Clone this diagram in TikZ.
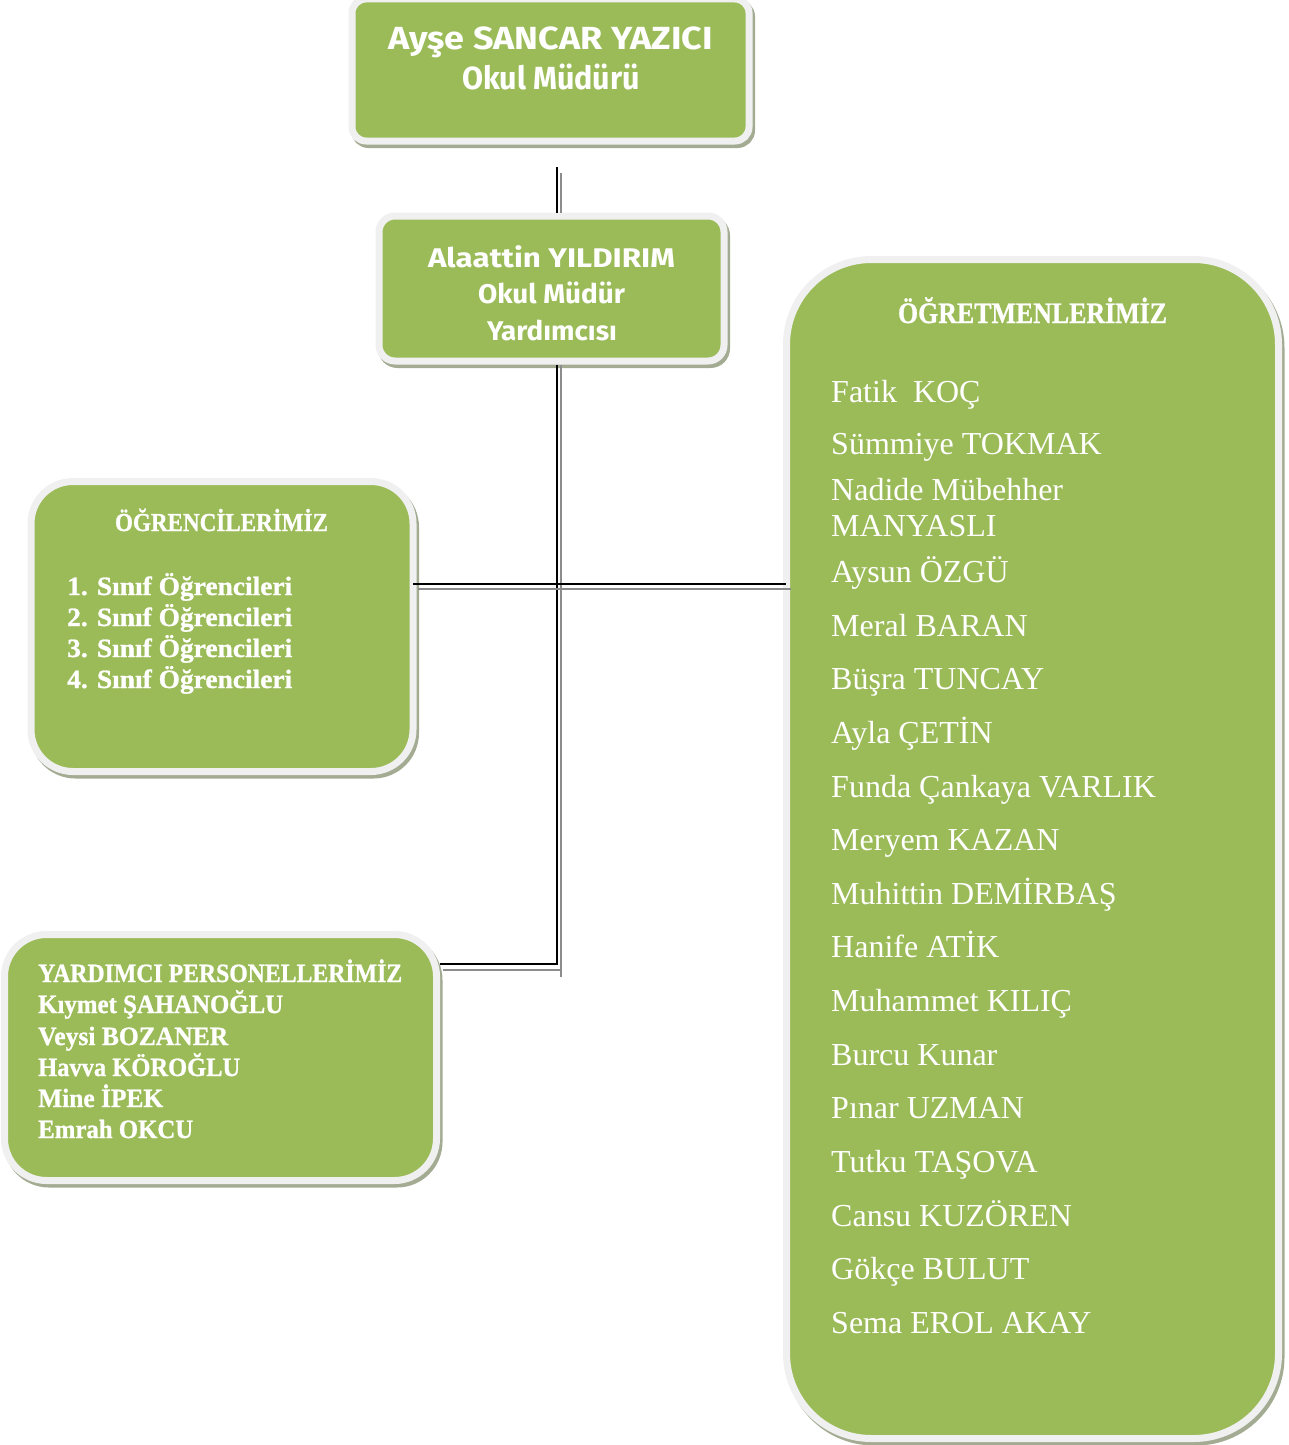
\documentclass[tikz,border=0pt]{standalone}
\usepackage{fontspec}
\usepackage{graphicx}
\setmainfont{Liberation Serif}
\newfontfamily\comicf{Fira Sans}
\newfontfamily\tnrf{Liberation Serif}
\newfontfamily\cambf{Liberation Serif}[BoldFeatures={FakeBold=1.0}]
\definecolor{boxgreen}{HTML}{9BBB59}
\definecolor{bandgray}{HTML}{F0F0F0}
\definecolor{shadowc}{HTML}{A3AC93}
\definecolor{linegray}{HTML}{8C8C8C}
\newcommand{\fitw}[2]{\resizebox{#1pt}{\height}{#2}}
\newcommand{\fitc}[2]{\resizebox{#1pt}{1.1\height}{#2}}
\tikzset{
  orgbox/.style={rectangle, rounded corners=#1, fill=boxgreen, draw=bandgray,
    line width=7pt, inner sep=0pt,
    preaction={fill=shadowc, draw=shadowc, line width=7pt,
      transform canvas={shift={(2.5pt,-3.5pt)}}}},
  conn/.style={black, line width=1.5pt},
  conng/.style={linegray, line width=1.5pt},
  topt/.style={anchor=base, inner sep=0pt, text=white, font=\comicf\bfseries\fontsize{32}{38}\selectfont},
  dept/.style={anchor=base, inner sep=0pt, text=white, font=\comicf\bfseries\fontsize{27}{32}\selectfont},
  camt/.style={anchor=base west, inner sep=0pt, text=white, font=\cambf\bfseries\fontsize{24}{28}\selectfont},
  camh/.style={anchor=base, inner sep=0pt, text=white, font=\cambf\bfseries\fontsize{23.5}{28}\selectfont},
  teah/.style={anchor=base, inner sep=0pt, text=white, font=\cambf\bfseries\fontsize{27}{30}\selectfont},
  tname/.style={anchor=base west, inner sep=0pt, text=white, font=\tnrf\fontsize{32}{38}\selectfont},
}
\begin{document}
\begin{tikzpicture}[x=1pt,y=-1pt]
\useasboundingbox (0,0) rectangle (1289,1445);
% boxes
\node[orgbox=14pt, minimum width=397pt, minimum height=142pt] (boss) at (550.5,70) {};
\node[orgbox=16pt, minimum width=345pt, minimum height=145pt] (deputy) at (551.5,288.5) {};
\node[orgbox=42pt, minimum width=382pt, minimum height=290pt] (students) at (222,626.5) {};
\node[orgbox=42pt, minimum width=432pt, minimum height=246pt] (helpers) at (220.5,1057.5) {};
\node[orgbox=85pt, minimum width=492pt, minimum height=1179pt] (teachers) at (1032.5,849) {};
% connector coordinates
\coordinate (jb) at (557,167);
\coordinate (jg) at (561,173);
\coordinate (tb) at (557,965);
\coordinate (tg) at (561,977);
\coordinate (hb) at (413,584);
\coordinate (hg) at (418,589);
\coordinate (hbe) at (786,584);
\coordinate (hge) at (791,589);
\coordinate (lb) at (557,964);
\coordinate (lg) at (561,970);
% connectors
\draw[conng] (jg) -- (jg |- deputy.north);
\draw[conn] (jb) -- (jb |- deputy.north);
\draw[conng] (jg |- deputy.south) -- (tg);
\draw[conn] (jb |- deputy.south) -- (tb);
\draw[conng] (hg) -- (hge);
\draw[conn] (hb) -- (hbe);
\draw[conng] (helpers.east |- lg) ++(3,0) -- (lg);
\draw[conn] (helpers.east |- lb) -- (lb);
% texts top
\node[topt] (bossa) at (550.5,49) {\fitw{325}{Ayşe SANCAR YAZICI}};
\node[topt] (bossb) at (551,89) {\fitw{178}{Okul Müdürü}};
\node[dept] (depa) at (551.5,267) {\fitw{247}{Alaattin YILDIRIM}};
\node[dept] (depb) at (551.5,303) {\fitw{147}{Okul Müdür}};
\node[dept] (depc) at (552,340) {\fitw{130}{Yardımcısı}};
% students
\node[camh] (sth) at (221.5,531) {\fitc{213}{ÖĞRENCİLERİMİZ}};
\node[camt] (st1) at (67,595) {\fitc{225}{1. Sınıf Öğrencileri}};
\node[camt] (st2) at (67,626) {\fitc{225}{2. Sınıf Öğrencileri}};
\node[camt] (st3) at (67,657) {\fitc{225}{3. Sınıf Öğrencileri}};
\node[camt] (st4) at (67,688) {\fitc{225}{4. Sınıf Öğrencileri}};
% helpers
\node[camt] (hp0) at (38,982) {\fitc{364}{YARDIMCI PERSONELLERİMİZ}};
\node[camt] (hp1) at (38,1013) {\fitc{245}{Kıymet ŞAHANOĞLU}};
\node[camt] (hp2) at (38,1045) {\fitc{190}{Veysi BOZANER}};
\node[camt] (hp3) at (38,1076) {\fitc{202}{Havva KÖROĞLU}};
\node[camt] (hp4) at (38,1107) {\fitc{125}{Mine İPEK}};
\node[camt] (hp5) at (38,1138) {\fitc{155}{Emrah OKCU}};
% teachers
\node[teah] (teh) at (1032.5,323) {\fitc{269}{ÖĞRETMENLERİMİZ}};
\node[tname] (n1) at (831,402) {Fatik~~KOÇ};
\node[tname] (n2) at (831,454) {Sümmiye TOKMAK};
\node[tname] (n3) at (831,500) {Nadide Mübehher};
\node[tname] (n3b) at (831,536) {MANYASLI};
\node[tname] (n4) at (831,582) {Aysun ÖZGÜ};
\node[tname] (n5) at (831,636) {Meral BARAN};
\node[tname] (n6) at (831,689) {Büşra TUNCAY};
\node[tname] (n7) at (831,743) {Ayla ÇETİN};
\node[tname] (n8) at (831,797) {Funda Çankaya VARLIK};
\node[tname] (n9) at (831,850) {Meryem KAZAN};
\node[tname] (n10) at (831,904) {Muhittin DEMİRBAŞ};
\node[tname] (n11) at (831,957) {Hanife ATİK};
\node[tname] (n12) at (831,1011) {Muhammet KILIÇ};
\node[tname] (n13) at (831,1065) {Burcu Kunar};
\node[tname] (n14) at (831,1118) {Pınar UZMAN};
\node[tname] (n15) at (831,1172) {Tutku TAŞOVA};
\node[tname] (n16) at (831,1226) {Cansu KUZÖREN};
\node[tname] (n17) at (831,1279) {Gökçe BULUT};
\node[tname] (n18) at (831,1333) {Sema EROL AKAY};
\end{tikzpicture}
\end{document}
